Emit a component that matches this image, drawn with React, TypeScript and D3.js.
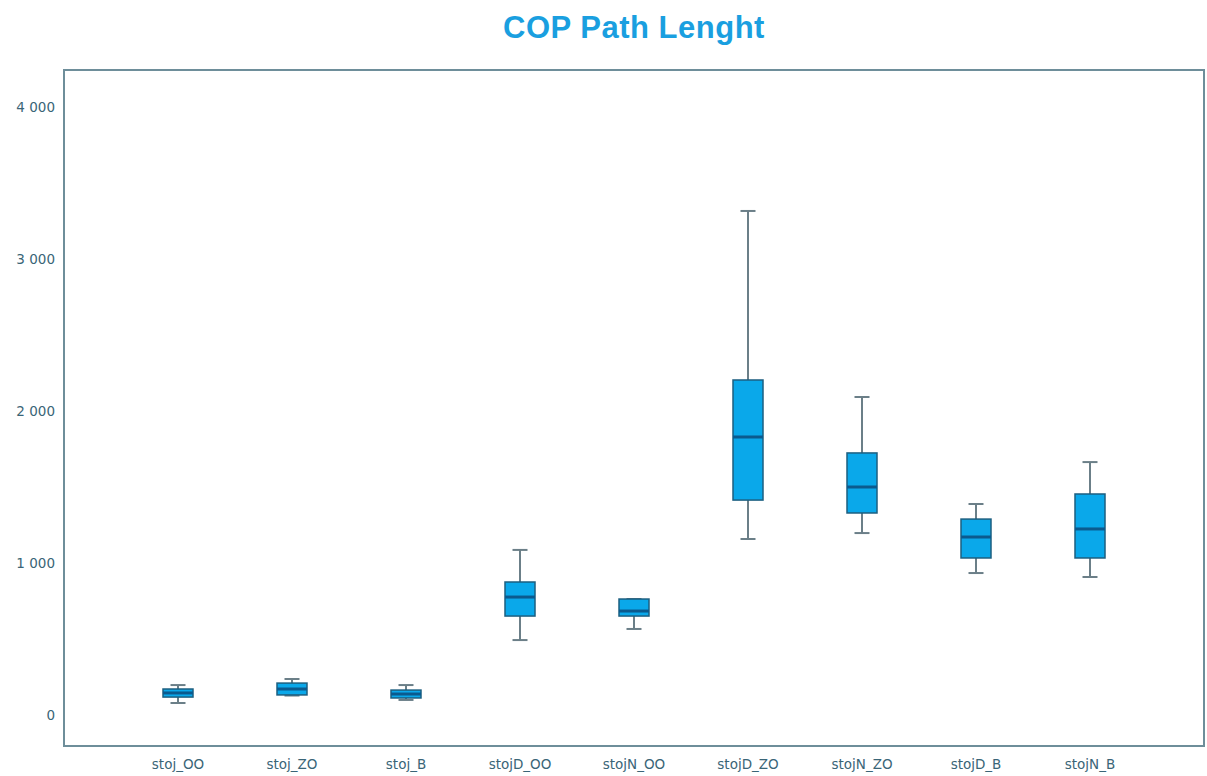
import React from "react";
import * as d3 from "d3";

const categories = ["stoj_OO", "stoj_ZO", "stoj_B", "stojD_OO", "stojN_OO", "stojD_ZO", "stojN_ZO", "stojD_B", "stojN_B"];
const whiskerLow = [79, 128, 99, 493, 566, 1158, 1197, 934, 908];
const q1Values = [118, 132, 112, 651, 651, 1414, 1329, 1033, 1033];
const medians = [145, 171, 138, 776, 684, 1829, 1500, 1171, 1224];
const q3Values = [171, 210, 164, 875, 763, 2204, 1724, 1289, 1454];
const whiskerHigh = [197, 237, 197, 1086, 763, 3316, 2092, 1388, 1664];
const yTicks = [0, 1000, 2000, 3000, 4000];

const W = 1207;
const H = 776;
const left = 64, right = 1204, top = 70, bottom = 746;

export default function App() {
  const x = d3.scalePoint<string>().domain(categories).range([left, right]).padding(1);
  const y = d3.scaleLinear().domain([0, 4000]).range([715, 107]);
  const fmt = (v: number) => d3.format(",")(v).replace(/,/g, " ");
  const boxW = 30;
  const capW = 15;
  const titleFont = "'Liberation Sans', Arial, sans-serif";
  const font = "'DejaVu Sans', Verdana, sans-serif";

  return (
    <svg width={W} height={H} style={{ position: "absolute", left: 0, top: 0, background: "#fff" }}>
      <text x={(left + right) / 2} y={38} textAnchor="middle" fontFamily={titleFont} fontWeight="bold" fontSize={31} letterSpacing={0.5} fill="#1a9fe0">
        COP Path Lenght
      </text>
      <rect x={left} y={top} width={right - left} height={bottom - top} fill="#fff" stroke="#6e8e9a" strokeWidth={2} />
      {yTicks.map((t) => (
        <text key={t} x={55} y={y(t)} dy="0.35em" textAnchor="end" fontFamily={font} fontSize={13.5} fill="#3a6577">
          {fmt(t)}
        </text>
      ))}
      {categories.map((c, i) => {
        const cx = x(c) as number;
        return (
          <g key={c}>
            <line x1={cx} x2={cx} y1={y(whiskerHigh[i])} y2={y(q3Values[i])} stroke="#6b7f88" strokeWidth={2} />
            <line x1={cx} x2={cx} y1={y(q1Values[i])} y2={y(whiskerLow[i])} stroke="#6b7f88" strokeWidth={2} />
            <line x1={cx - capW / 2} x2={cx + capW / 2} y1={y(whiskerHigh[i])} y2={y(whiskerHigh[i])} stroke="#6b7f88" strokeWidth={2} />
            <line x1={cx - capW / 2} x2={cx + capW / 2} y1={y(whiskerLow[i])} y2={y(whiskerLow[i])} stroke="#6b7f88" strokeWidth={2} />
            <rect x={cx - boxW / 2} y={y(q3Values[i])} width={boxW} height={y(q1Values[i]) - y(q3Values[i])} fill="#0aa8ea" stroke="#1d5f80" strokeWidth={1.5} />
            <line x1={cx - boxW / 2} x2={cx + boxW / 2} y1={y(medians[i])} y2={y(medians[i])} stroke="#0b5a8e" strokeWidth={3} />
            <text x={cx} y={769} textAnchor="middle" fontFamily={font} fontSize={13.5} fill="#3a6577">
              {c}
            </text>
          </g>
        );
      })}
    </svg>
  );
}
